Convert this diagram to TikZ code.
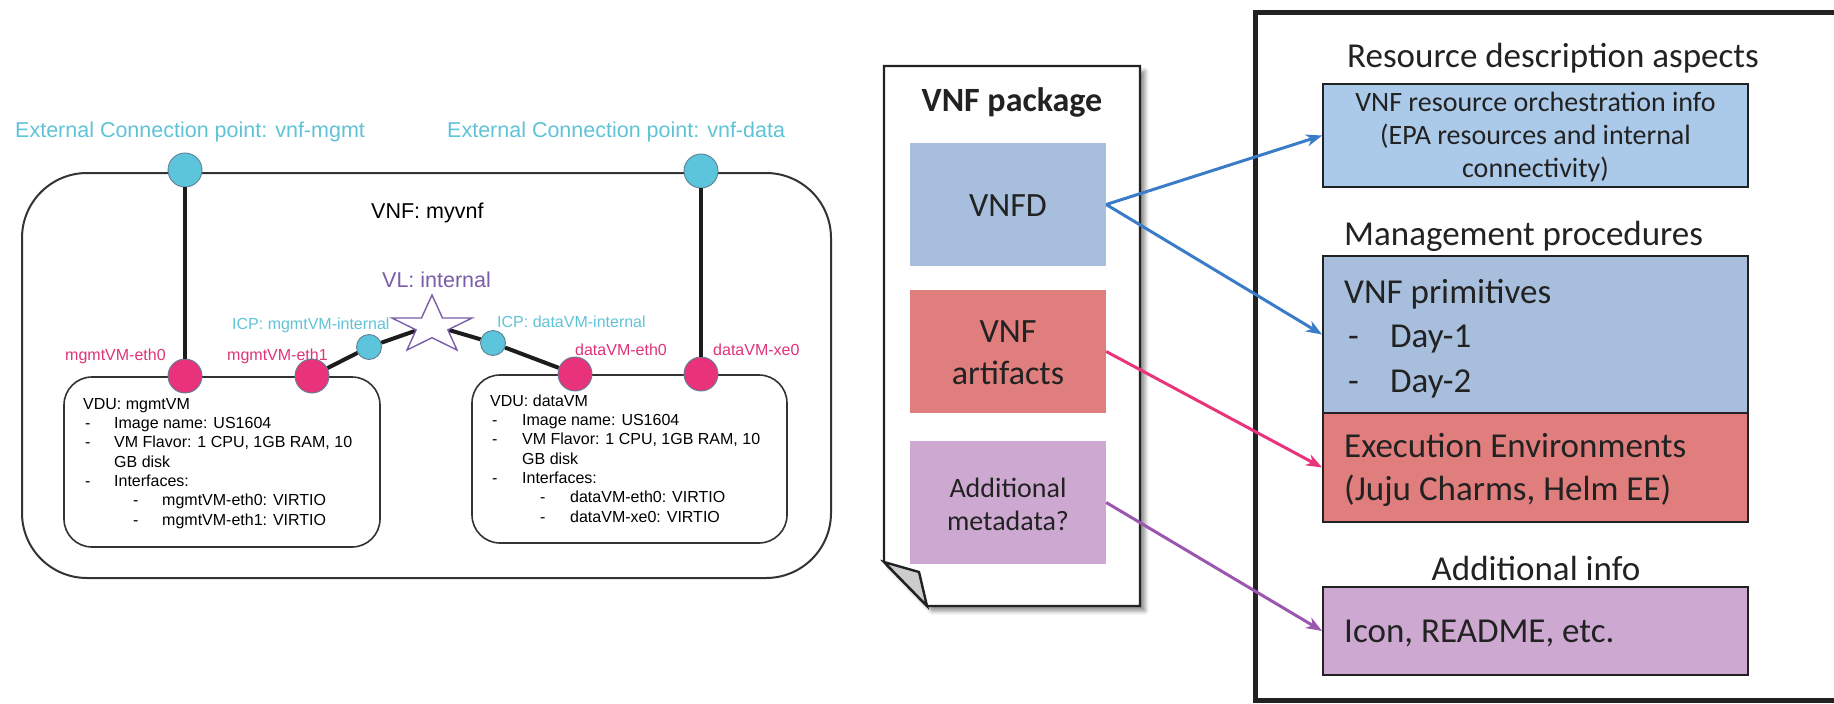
\documentclass[tikz,border=0pt]{standalone}
\usepackage{fontspec}
\setmainfont{Carlito}
\newfontfamily\arialf{Liberation Sans}
\usetikzlibrary{arrows.meta,shadows.blur}

\definecolor{cpcyan}{HTML}{5CC4DB}
\definecolor{cptext}{HTML}{5FC3D7}
\definecolor{ifpink}{HTML}{E8337A}
\definecolor{iftext}{HTML}{DE3378}
\definecolor{vlpurple}{HTML}{7A5CA8}
\definecolor{circedge}{HTML}{5E8197}
\definecolor{linkblack}{HTML}{1C1C1C}
\definecolor{framegray}{HTML}{333333}
\definecolor{boxblue}{HTML}{A7BFDD}
\definecolor{boxbluelt}{HTML}{ABC9E8}
\definecolor{boxred}{HTML}{DF7E7C}
\definecolor{boxpurple}{HTML}{CDA9D1}
\definecolor{flapgray}{HTML}{CCCCCC}
\definecolor{inkdark}{HTML}{222222}
\definecolor{arrblue}{HTML}{3A7CC8}
\definecolor{arrpink}{HTML}{E8347A}
\definecolor{arrpurple}{HTML}{9B57B0}

\begin{document}
\begin{tikzpicture}[x=1pt,y=-1pt,
  cp/.style={circle,inner sep=0,minimum size=34pt,fill=cpcyan,draw=circedge,line width=0.9pt},
  icp/.style={cp,minimum size=25pt},
  ifc/.style={circle,inner sep=0,minimum size=34pt,fill=ifpink,draw=circedge,line width=0.9pt},
  link/.style={line width=4pt,draw=linkblack},
  atxt/.style={inner sep=0,anchor=base west,font=\arialf\fontsize{#1}{#1}\selectfont},
  vdutxt/.style={atxt=16,text=black},
  ctxt/.style={inner sep=0,anchor=base,text=inkdark,font=\fontsize{#1}{#1}\selectfont},
  ltxt/.style={inner sep=0,anchor=base west,text=inkdark,font=\fontsize{#1}{#1}\selectfont},
  pkgbox/.style={inner sep=0,minimum width=196pt,minimum height=123pt},
  infobox/.style={inner sep=0,minimum width=425pt,draw=inkdark,line width=1.8pt},
  feed/.style={line width=3pt,-{Stealth[length=16pt,width=12pt,inset=5pt]}},
  docline/.style={draw=inkdark,line width=2.4pt,line join=miter}
]
\useasboundingbox (0,0) rectangle (1834,704);

% ---------------- VNF descriptor sketch ----------------
\draw[framegray,line width=2pt,rounded corners=65pt] (22,173) rectangle (831,578);
\draw[framegray,line width=1.6pt,rounded corners=28pt] (64,377) rectangle (380,547);
\draw[framegray,line width=1.6pt,rounded corners=28pt] (472,375) rectangle (787,543);

\node[atxt=21.5,text=cptext] (extmtxt) at (15,137) {External Connection point: vnf-mgmt};
\node[atxt=21.5,text=cptext] (extdtxt) at (447,137) {External Connection point: vnf-data};
\node[atxt=21.5,text=black] (vnfname) at (371,218) {VNF: myvnf};
\node[atxt=21.5,text=vlpurple] (vlname) at (382,287) {VL: internal};
\node[atxt=16,text=cptext] (icpmtxt) at (232,329) {ICP: mgmtVM-internal};
\node[atxt=16,text=cptext] (icpdtxt) at (497,327) {ICP: dataVM-internal};
\node[atxt=16,text=iftext] (m0txt) at (65,360) {mgmtVM-eth0};
\node[atxt=16,text=iftext] (m1txt) at (227,360) {mgmtVM-eth1};
\node[atxt=16,text=iftext] (d0txt) at (575,355) {dataVM-eth0};
\node[atxt=16,text=iftext] (dxtxt) at (713,355) {dataVM-xe0};

% connection points and interfaces
\coordinate (vl) at (432,325);
\node[cp] (extm) at (185,170) {};
\node[cp] (extd) at (701,171) {};
\node[icp] (icpm) at (369,347) {};
\node[icp] (icpd) at (493,343) {};
\node[ifc] (meth0) at (185,376) {};
\node[ifc] (meth1) at (312,376) {};
\node[ifc] (deth0) at (575,374) {};
\node[ifc] (dxe0) at (701,374) {};

% links stop at the circle borders
\draw[link] (extm) -- (meth0);
\draw[link] (extd) -- (dxe0);
\draw[link] (meth1) -- (icpm) -- (vl);
\draw[link] (vl) -- (icpd) -- (deth0);

% virtual link star
\draw[vlpurple,line width=1.4pt,fill=white,line join=miter,shift={(vl)}]
  (0,-30) -- (10.5,-7) -- (40,-7) -- (15.9,4.9) -- (25,25) -- (0,12.7)
  -- (-25,25) -- (-15.9,4.9) -- (-40,-7) -- (-10.5,-7) -- cycle;

% VDU contents
\begin{scope}[shift={(83,409)}]
  \node[vdutxt] (ma) at (0,0) {VDU: mgmtVM};
  \node[vdutxt] (mb1) at (2,19.35) {-};
  \node[vdutxt] (mb2) at (31,19.35) {Image name: US1604};
  \node[vdutxt] (mc1) at (2,38.7) {-};
  \node[vdutxt] (mc2) at (31,38.7) {VM Flavor: 1 CPU, 1GB RAM, 10};
  \node[vdutxt] (md) at (31,58.05) {GB disk};
  \node[vdutxt] (me1) at (2,77.4) {-};
  \node[vdutxt] (me2) at (31,77.4) {Interfaces:};
  \node[vdutxt] (mf1) at (50,96.75) {-};
  \node[vdutxt] (mf2) at (79,96.75) {mgmtVM-eth0: VIRTIO};
  \node[vdutxt] (mg1) at (50,116.1) {-};
  \node[vdutxt] (mg2) at (79,116.1) {mgmtVM-eth1: VIRTIO};
\end{scope}
\begin{scope}[shift={(490,406)}]
  \node[vdutxt] (da) at (0,0) {VDU: dataVM};
  \node[vdutxt] (db1) at (2,19.35) {-};
  \node[vdutxt] (db2) at (32,19.35) {Image name: US1604};
  \node[vdutxt] (dc1) at (2,38.7) {-};
  \node[vdutxt] (dc2) at (32,38.7) {VM Flavor: 1 CPU, 1GB RAM, 10};
  \node[vdutxt] (dd) at (32,58.05) {GB disk};
  \node[vdutxt] (de1) at (2,77.4) {-};
  \node[vdutxt] (de2) at (32,77.4) {Interfaces:};
  \node[vdutxt] (df1) at (50,96.75) {-};
  \node[vdutxt] (df2) at (80,96.75) {dataVM-eth0: VIRTIO};
  \node[vdutxt] (dg1) at (50,116.1) {-};
  \node[vdutxt] (dg2) at (80,116.1) {dataVM-xe0: VIRTIO};
\end{scope}

% ---------------- VNF package document ----------------
\draw[docline,fill=white,
  blur shadow={shadow xshift=5pt,shadow yshift=-5pt,shadow blur radius=4pt,shadow opacity=45}]
  (884,66) -- (1140,66) -- (1140,606) -- (927,606) -- (884,562) -- cycle;
\draw[docline,fill=flapgray] (884,562) -- (919,572) -- (927,606) -- cycle;

\node[ctxt=34,font=\bfseries\fontsize{34}{34}\selectfont] (pkgtitle) at (1012,111) {VNF package};
\node[pkgbox,fill=boxblue] (vnfd) at (1008,204.5) {};
\node[pkgbox,fill=boxred] (artf) at (1008,351.5) {};
\node[pkgbox,fill=boxpurple] (meta) at (1008,502.5) {};
\node[ctxt=34] (vnfdtxt) at (1008,216) {VNFD};
\node[ctxt=34] (artf1) at (1008,342) {VNF};
\node[ctxt=34] (artf2) at (1008,384) {artifacts};
\node[ctxt=28] (meta1) at (1008,497) {Additional};
\node[ctxt=28] (meta2) at (1008,530) {metadata?};

% ---------------- package contents ----------------
\draw[inkdark,line width=5pt] (1860,12) -- (1255,12) -- (1255,700) -- (1860,700);

\node[ctxt=35] (restitle) at (1553,67) {Resource description aspects};
\node[infobox,fill=boxbluelt,minimum height=103pt] (orch) at (1535.5,135.5) {};
\node[ctxt=28] (orch1) at (1535.5,111) {VNF resource orchestration info};
\node[ctxt=28] (orch2) at (1535.5,144) {(EPA resources and internal};
\node[ctxt=28] (orch3) at (1535.5,177) {connectivity)};

\node[ltxt=35] (mgmttitle) at (1344,245) {Management procedures};
\node[infobox,fill=boxblue,minimum height=157pt] (prim) at (1535.5,334.5) {};
\node[infobox,fill=boxred,minimum height=109pt] (exec) at (1535.5,467.5) {};
\node[ltxt=35] (prim1) at (1344,303) {VNF primitives};
\node[ltxt=35] (prim2a) at (1348,347) {-};
\node[ltxt=35] (prim2b) at (1390,347) {Day-1};
\node[ltxt=35] (prim3a) at (1348,392) {-};
\node[ltxt=35] (prim3b) at (1390,392) {Day-2};
\node[ltxt=35] (exec1) at (1344,457) {Execution Environments};
\node[ltxt=35] (exec2) at (1344,500) {(Juju Charms, Helm EE)};

\node[ctxt=35] (addtitle) at (1536,580) {Additional info};
\node[infobox,fill=boxpurple,minimum height=88pt] (icon) at (1535.5,631) {};
\node[ltxt=35] (icon1) at (1344,642) {Icon, README, etc.};

% ---------------- mappings ----------------
\draw[feed,arrblue] (vnfd.east) -- (orch.west);
\draw[feed,arrblue] (vnfd.east) -- (prim.west);
\draw[feed,arrpink] (artf.east) -- (exec.west);
\draw[feed,arrpurple] (meta.east) -- (icon.west);
\end{tikzpicture}
\end{document}
